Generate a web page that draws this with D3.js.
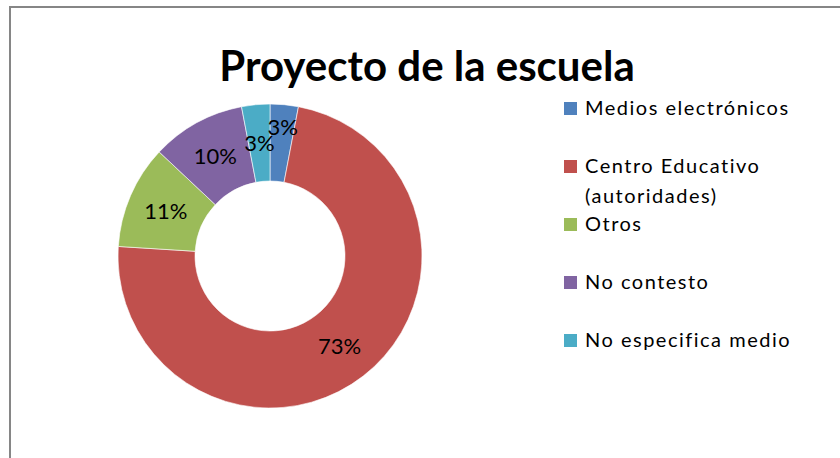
<!DOCTYPE html>
<html>
<head>
<meta charset="utf-8">
<script src="https://cdn.jsdelivr.net/npm/d3@7"></script>
<style>
  body { margin: 0; background: #fff; }
  .contenedor_grafico { width: 840px; height: 458px; overflow: hidden; }
  text { font-family: Lato, "Liberation Sans", sans-serif; fill: #000; }
  .title { font-weight: bold; font-size: 42px; }
  .slice-label { font-size: 22px; }
  .legend-label { font-size: 20px; letter-spacing: 1.5px; }
</style>
</head>
<body>
<div class="contenedor_grafico"></div>
<script>
const categories = [
  "Medios electrónicos",
  "Centro Educativo (autoridades)",
  "Otros",
  "No contesto",
  "No especifica medio"
];
const values = [3, 73, 11, 10, 3];
const colors = ["#4F81BD", "#C0504D", "#9BBB59", "#8064A2", "#4BACC6"];
const title = "Proyecto de la escuela";

document.addEventListener("DOMContentLoaded", function () {
  const width = 840;
  const height = 458;
  const cx = 270;
  const cy = 256;
  const outerR = 152;
  const innerR = 75;

  const data = categories.map((c, i) => ({ name: c, value: values[i] }));

  const svg = d3
    .select(".contenedor_grafico")
    .append("svg")
    .attr("width", width)
    .attr("height", height)
    .style("background-color", "#fff");

  // chart area border (only top and left show in the frame)
  svg
    .append("rect")
    .attr("x", 10)
    .attr("y", 7)
    .attr("width", width + 20)
    .attr("height", height + 20)
    .attr("fill", "#fff")
    .attr("stroke", "#868686")
    .attr("stroke-width", 2);

  svg
    .append("text")
    .attr("class", "title")
    .attr("x", 427)
    .attr("y", 81)
    .attr("text-anchor", "middle")
    .text(title);

  const color = d3.scaleOrdinal().domain(categories).range(colors);

  const pie = d3.pie().value((d) => d.value).sort(null);
  const arcs = pie(data);

  const arc = d3.arc().innerRadius(innerR).outerRadius(outerR);
  const labelArc = d3
    .arc()
    .innerRadius((innerR + outerR) / 2)
    .outerRadius((innerR + outerR) / 2);

  const g = svg.append("g").attr("transform", `translate(${cx}, ${cy})`);

  g.selectAll("path")
    .data(arcs)
    .enter()
    .append("path")
    .attr("d", arc)
    .attr("fill", (d) => color(d.data.name))
    .attr("stroke", "#fff")
    .attr("stroke-width", 0.6);

  // label positions, the first one is pushed up if it hits the last one
  const pos = arcs.map((d) => labelArc.centroid(d));
  const last = pos[pos.length - 1];
  if (Math.abs(pos[0][1] - last[1]) < 18 && Math.abs(pos[0][0] - last[0]) < 36) {
    pos[0] = [pos[0][0] + 2, pos[0][1] - 16];
  }

  g.selectAll(".slice-label")
    .data(arcs)
    .enter()
    .append("text")
    .attr("class", "slice-label")
    .attr("x", (d, i) => pos[i][0])
    .attr("y", (d, i) => pos[i][1])
    .attr("dy", "0.36em")
    .attr("text-anchor", "middle")
    .text((d) => d.data.value + "%");

  // legend
  const legendY = d3.scalePoint().domain(categories).range([108, 340]);
  const legend = svg
    .selectAll(".legend")
    .data(categories)
    .enter()
    .append("g")
    .attr("class", "legend")
    .attr("transform", (d) => `translate(564, ${legendY(d)})`);

  legend
    .append("rect")
    .attr("x", 0)
    .attr("y", -6)
    .attr("width", 13)
    .attr("height", 13)
    .attr("fill", (d) => color(d));

  legend.each(function (d) {
    const t = d3
      .select(this)
      .append("text")
      .attr("class", "legend-label")
      .attr("x", 21)
      .attr("y", 0);
    const words = d.split(" ");
    let line = [];
    let tspan = t.append("tspan").attr("x", 21).attr("y", 0).attr("dy", "0.36em");
    let lineNo = 0;
    words.forEach((w) => {
      line.push(w);
      tspan.text(line.join(" "));
      if (tspan.node().getComputedTextLength() > 230 && line.length > 1) {
        line.pop();
        tspan.text(line.join(" "));
        line = [w];
        lineNo++;
        tspan = t
          .append("tspan")
          .attr("x", 21)
          .attr("y", lineNo * 30)
          .attr("dy", "0.36em")
          .text(w);
      }
    });
  });
});
</script>
</body>
</html>
